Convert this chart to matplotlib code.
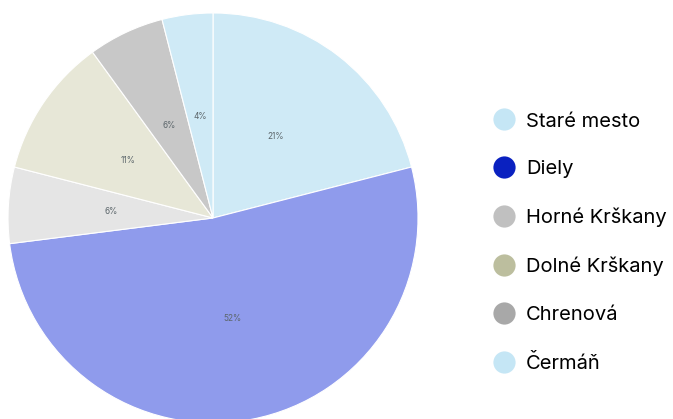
import matplotlib
matplotlib.use("Agg")
import matplotlib.pyplot as plt
from matplotlib.lines import Line2D

plt.rcParams["font.family"] = ["Inter", "DejaVu Sans"]

districts = ["Staré mesto", "Diely", "Horné Krškany", "Dolné Krškany", "Chrenová", "Čermáň"]
shares = [21, 52, 6, 11, 6, 4]
pie_colors = ["#cfeaf6", "#8f9bec", "#e5e5e5", "#e7e7d7", "#c8c8c8", "#cfeaf6"]
legend_colors = ["#c5e6f5", "#0a21c0", "#c0c0c0", "#bcbe9e", "#a8a8a8", "#c5e6f5"]

fig = plt.figure(figsize=(6.73, 4.19), dpi=100)
ax = fig.add_axes([0.0119, -0.0095, 0.6092, 0.9785])
wedges, texts, autotexts = ax.pie(
    shares, colors=pie_colors, startangle=90, counterclock=False,
    autopct="%d%%", pctdistance=0.5,
    wedgeprops=dict(edgecolor="white", linewidth=0.8),
    textprops=dict(fontsize=6, color="#5c666b"),
)
ax.set_xlim(-1, 1)
ax.set_ylim(-1, 1)
ax.set_aspect("equal")

handles = [Line2D([], [], marker="o", ls="", markersize=16, color=c, markeredgewidth=0)
           for c in legend_colors]
fig.legend(handles, districts, loc="center left", bbox_to_anchor=(0.716, 0.421),
           frameon=False, fontsize=14.5, labelspacing=1.47, handletextpad=0.55,
           handlelength=1.15, borderpad=0, borderaxespad=0.5)

fig.savefig("out.png", dpi=100)
